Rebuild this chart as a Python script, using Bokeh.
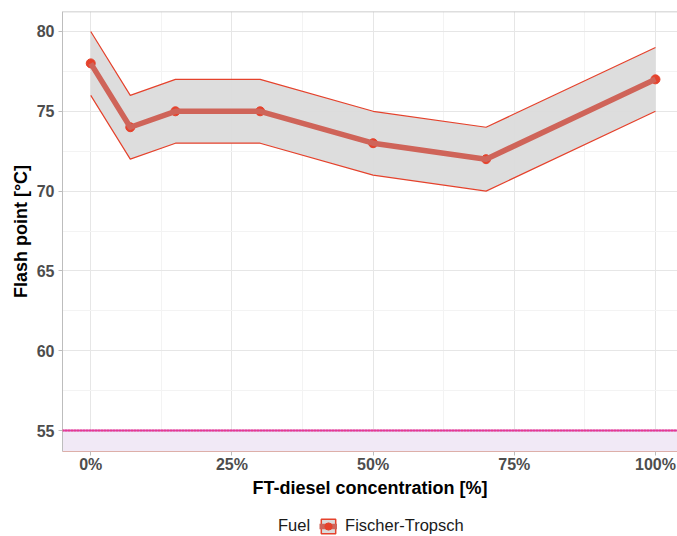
from bokeh.plotting import figure
from bokeh.layouts import column
from bokeh.models import (Range1d, FixedTicker, SingleIntervalTicker, PrintfTickFormatter,
                          Legend, LegendItem, ColumnDataSource, Span, BoxAnnotation)
from bokeh.embed import file_html
from bokeh.resources import INLINE

# FT-diesel blend share (%) and measured flash point (°C) with its band
concentration = [0, 7, 15, 30, 50, 70, 100]
flash_point = [78, 74, 75, 75, 73, 72, 77]
flash_low = [76, 72, 73, 73, 71, 70, 75]
flash_high = [80, 76, 77, 77, 75, 74, 79]

# minimum flash point required for diesel fuel
limit = 55

x_ticks = [0, 25, 50, 75, 100]
x_minor = [12.5, 37.5, 62.5, 87.5]

FONT = "Liberation Sans"
RED = "#E5422C"
LINE = "#CF6459"
BAND = "#DBDBDB"
GRID = "#E6E6E6"
GRID_MINOR = "#F3F3F3"
BORDER = "#BDBDBD"

src = ColumnDataSource(dict(x=concentration, y=flash_point, lo=flash_low, hi=flash_high))

y_start, y_end = 53.69, 81.25
p = figure(width=677, height=500, output_backend="svg", toolbar_location=None,
           x_range=Range1d(-5, 103.9), y_range=Range1d(y_start, y_end),
           min_border_left=62, min_border_right=0, min_border_top=11, min_border_bottom=48)
p.outline_line_color = None
p.background_fill_color = "white"

# region below the limit
p.add_layout(BoxAnnotation(top=limit, fill_color="#F1E9F6", fill_alpha=1.0,
                           line_color=None, level="underlay"))

# confidence band
p.varea(x="x", y1="lo", y2="hi", source=src, fill_color=BAND, fill_alpha=0.95)
p.line(x="x", y="lo", source=src, line_color=RED, line_width=1.2)
p.line(x="x", y="hi", source=src, line_color=RED, line_width=1.2)

p.scatter(x="x", y="y", source=src, size=9, fill_color=RED, line_color=RED)
p.line(x="x", y="y", source=src, line_color=LINE, line_width=5.5, line_join="round")

# limit line
p.add_layout(Span(location=limit, dimension="width", line_color="#D93FB0", line_width=2))
p.add_layout(Span(location=limit, dimension="width", line_color="#EE3B6A", line_width=2,
                  line_dash="1 2"))
# top border of the panel
p.add_layout(Span(location=y_end, dimension="width", line_color=BORDER, line_width=1.5))

# axes
p.xaxis.ticker = FixedTicker(ticks=x_ticks, minor_ticks=x_minor)
p.xaxis.formatter = PrintfTickFormatter(format="%d%%")
p.yaxis.ticker = SingleIntervalTicker(interval=5, num_minor_ticks=2)
p.xaxis.axis_label = "FT-diesel concentration [%]"
p.yaxis.axis_label = "Flash point [°C]"
for ax in (p.xaxis, p.yaxis):
    ax.major_label_text_font = FONT
    ax.major_label_text_font_size = "16px"
    ax.major_label_text_font_style = "bold"
    ax.major_label_text_color = "#4D4D4D"
    ax.axis_label_text_font = FONT
    ax.axis_label_text_font_size = "18px"
    ax.axis_label_text_font_style = "bold"
    ax.axis_label_text_color = "black"
    ax.major_tick_line_color = BORDER
    ax.major_tick_in = 0
    ax.major_tick_out = 4
    ax.minor_tick_line_color = None
p.xaxis.major_label_standoff = 0
p.yaxis.major_label_standoff = 4
p.xaxis.axis_line_color = "#DDAFA9"
p.yaxis.axis_line_color = BORDER
p.xaxis.axis_label_standoff = 2
p.yaxis.axis_label_standoff = 3

for g in (p.xgrid, p.ygrid):
    g.grid_line_color = GRID
    g.minor_grid_line_color = GRID_MINOR
    g.grid_line_width = 1

# legend strip underneath the chart; its key glyphs reuse the series source
# but sit outside this strip's ranges, so only the legend entries show
lg = figure(width=677, height=36, output_backend="svg", toolbar_location=None,
            x_range=Range1d(0, 1), y_range=Range1d(0, 1),
            min_border_left=0, min_border_right=0, min_border_top=0, min_border_bottom=0)
lg.axis.visible = False
lg.grid.visible = False
lg.outline_line_color = None

blank = lg.scatter(x="x", y="y", source=src, fill_alpha=0, line_alpha=0)
key_box = lg.quad(left="x", right="x", top="hi", bottom="lo", source=src,
                  fill_color=BAND, line_color=RED, line_width=1.5)
key_line = lg.line(x="x", y="y", source=src, line_color=LINE, line_width=5.5)
key_pt = lg.scatter(x="x", y="y", source=src, size=9, fill_color=RED, line_color=RED)
legend = Legend(items=[LegendItem(label="Fuel", renderers=[blank]),
                       LegendItem(label="Fischer-Tropsch",
                                  renderers=[key_box, key_line, key_pt])],
                location=(190, 1), orientation="horizontal",
                glyph_width=18, glyph_height=18,
                padding=0, margin=0, spacing=9,
                label_standoff=8, border_line_color=None, background_fill_alpha=0,
                label_text_font=FONT, label_text_font_size="16.5px",
                label_text_color="#1A1A1A")
lg.add_layout(legend, "center")

open("out.html", "w").write(file_html(column(p, lg, spacing=0), INLINE))
